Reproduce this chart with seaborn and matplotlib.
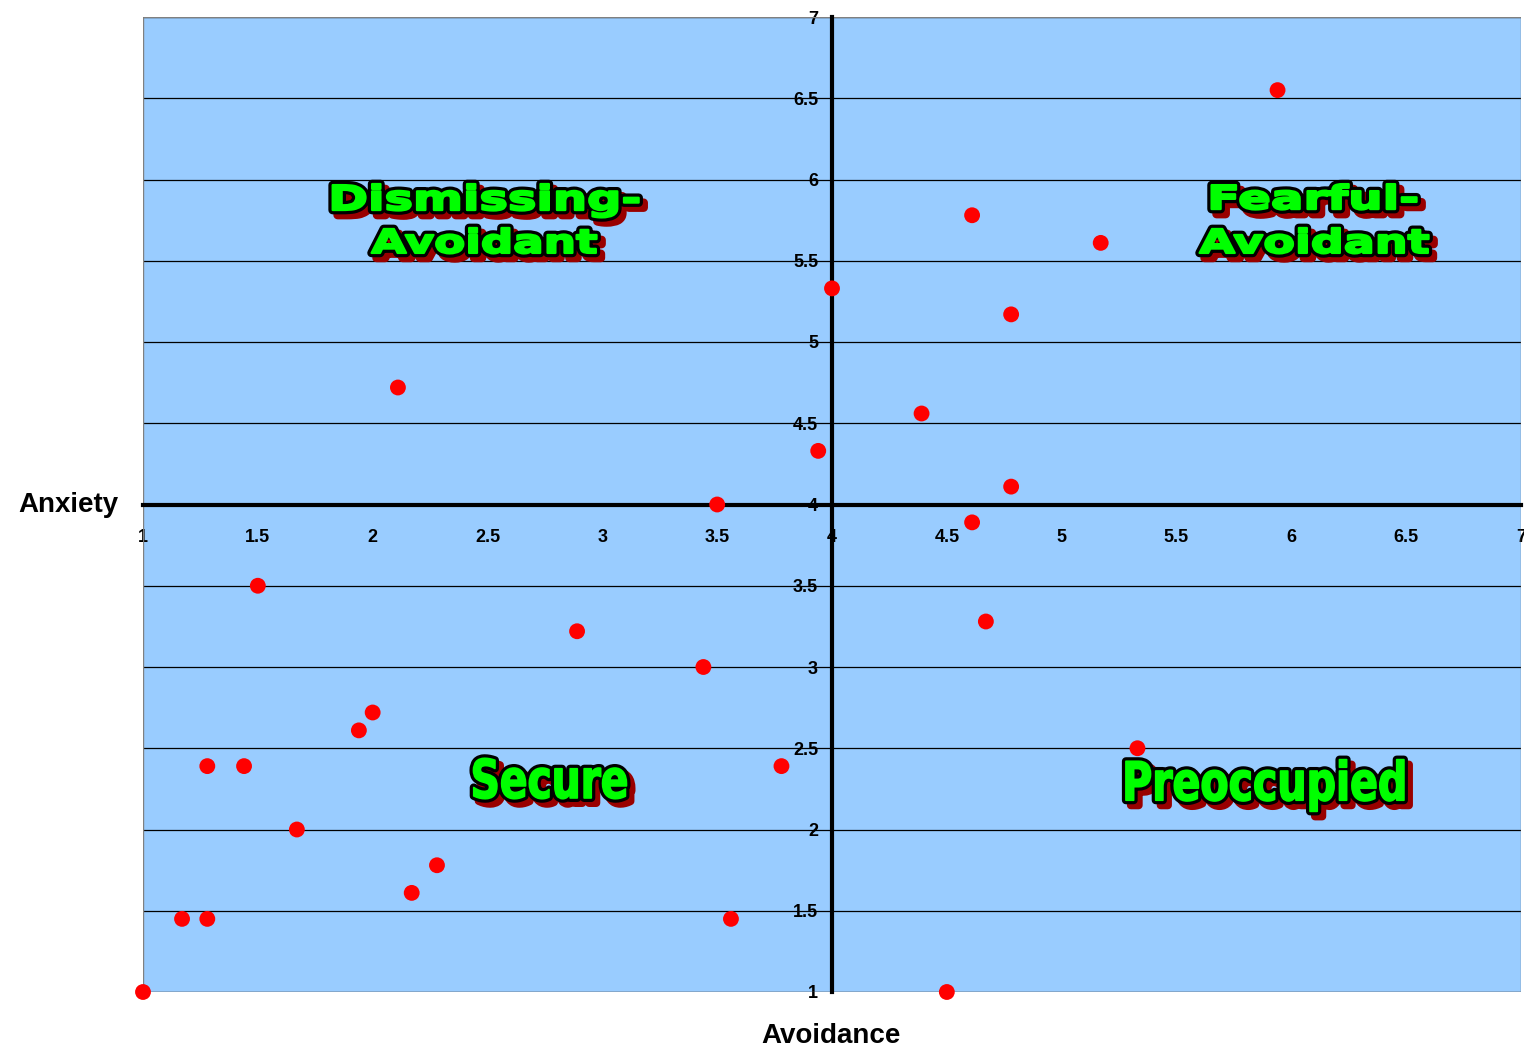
import matplotlib
matplotlib.use("Agg")
import matplotlib.pyplot as plt
from matplotlib.textpath import TextPath
from matplotlib.patches import PathPatch
from matplotlib.font_manager import FontProperties
from matplotlib.transforms import Affine2D
import seaborn as sns
import pandas as pd

avoidance = [1.0, 1.17, 1.28, 1.28, 1.44, 1.5, 1.67, 1.94, 2.0, 2.11, 2.17, 2.28,
             2.89, 3.44, 3.5, 3.56, 3.78, 3.94, 4.0, 4.39, 4.5, 4.61, 4.61, 4.67,
             4.78, 4.78, 5.17, 5.33, 5.94]
anxiety = [1.0, 1.45, 1.45, 2.39, 2.39, 3.5, 2.0, 2.61, 2.72, 4.72, 1.61, 1.78,
           3.22, 3.0, 4.0, 1.45, 2.39, 4.33, 5.33, 4.56, 1.0, 5.78, 3.89, 3.28,
           5.17, 4.11, 5.61, 2.5, 6.55]
tick_values = [1, 1.5, 2, 2.5, 3, 3.5, 4, 4.5, 5, 5.5, 6, 6.5, 7]
tick_labels = ["1", "1.5", "2", "2.5", "3", "3.5", "4", "4.5", "5", "5.5", "6", "6.5", "7"]
quadrant_lines = ["Dismissing-", "Avoidant", "Fearful-", "Avoidant", "Secure", "Preoccupied"]

df = pd.DataFrame({"Avoidance": avoidance, "Anxiety": anxiety})

sns.set_style("white")
plt.rcParams["font.family"] = ["Liberation Sans", "DejaVu Sans"]
plt.rcParams["text.color"] = "black"
plt.rcParams["xtick.color"] = "black"
plt.rcParams["ytick.color"] = "black"

fig = plt.figure(figsize=(15.24, 10.54), dpi=100)
ax = fig.add_axes([143/1524, 1 - 992/1054, (1521-143)/1524, (992-17)/1054])
ax.set_facecolor("#99CCFF")

sns.scatterplot(data=df, x="Avoidance", y="Anxiety", ax=ax, color="#FF0000",
                s=130, edgecolor="none", zorder=8, clip_on=False)

ax.set_xlim(1, 7)
ax.set_ylim(1, 7)
for v in tick_values:
    ax.axhline(v, color="black", lw=0.9, zorder=1)

for side in ("left", "bottom"):
    ax.spines[side].set_position(("data", 4))
    ax.spines[side].set_linewidth(3.0)
    ax.spines[side].set_color("black")
    ax.spines[side].set_zorder(3)
ax.spines["right"].set_visible(False)
ax.spines["top"].set_visible(False)
ax.set_xticks(tick_values)
ax.set_xticklabels(tick_labels)
ax.set_yticks(tick_values)
ax.set_yticklabels(tick_labels)
ax.tick_params(axis="x", direction="out", length=5, width=2, labelsize=13, pad=13)
ax.tick_params(axis="y", direction="out", length=5, width=2, labelsize=13, pad=5)
for lab in ax.get_xticklabels() + ax.get_yticklabels():
    lab.set_fontweight("bold")
ax.set_xlabel("")
ax.set_ylabel("")

frame = plt.Rectangle((0, 0), 1, 1, transform=ax.transAxes, fill=False,
                      edgecolor="#808080", lw=1, zorder=2)
ax.add_patch(frame)

fig.text(68/1524, 1 - 505/1054, "Anxiety", ha="center", va="center",
         fontsize=20, fontweight="bold")
fig.text(831/1524, 1 - 1036/1054, "Avoidance", ha="center", va="center",
         fontsize=20, fontweight="bold")

# quadrant labels: green glyphs, black outline, dark red drop shadow
label_font = FontProperties(family="DejaVu Sans", weight="bold")
cap_units = TextPath((0, 0), "H", size=100, prop=label_font).get_extents().height


def fancy_label(text, x, y_base, cap_px, width_px, bold_lw):
    path = TextPath((0, 0), text, size=100, prop=label_font)
    ext = path.get_extents()
    sy = cap_px / cap_units
    sx = width_px / ext.width
    px, py = ax.transData.transform((x, y_base))
    base = Affine2D().translate(-(ext.x0 + ext.width / 2), 0).scale(sx, sy)
    outline_lw = bold_lw + 4.6
    shadow = PathPatch(path, facecolor="#990000", edgecolor="#990000", lw=outline_lw,
                       joinstyle="round",
                       transform=base + Affine2D().translate(px + 5, py - 5), zorder=5)
    outline = PathPatch(path, facecolor="black", edgecolor="black", lw=outline_lw,
                        joinstyle="round",
                        transform=base + Affine2D().translate(px, py), zorder=6)
    fill = PathPatch(path, facecolor="#00FF00", edgecolor="#00FF00", lw=bold_lw,
                     joinstyle="round",
                     transform=base + Affine2D().translate(px, py), zorder=7)
    for p in (shadow, outline, fill):
        ax.add_artist(p)


fancy_label(quadrant_lines[0], 2.492, 5.812, 25, 306, 1.6)
fancy_label(quadrant_lines[1], 2.485, 5.548, 24, 225, 1.6)
fancy_label(quadrant_lines[2], 6.099, 5.818, 24, 205, 1.6)
fancy_label(quadrant_lines[3], 6.099, 5.548, 24, 229, 1.6)
fancy_label(quadrant_lines[4], 2.772, 2.194, 39, 153, 1.2)
fancy_label(quadrant_lines[5], 5.885, 2.18, 39, 278, 1.2)

fig.savefig("out.png", dpi=100, facecolor="white")
